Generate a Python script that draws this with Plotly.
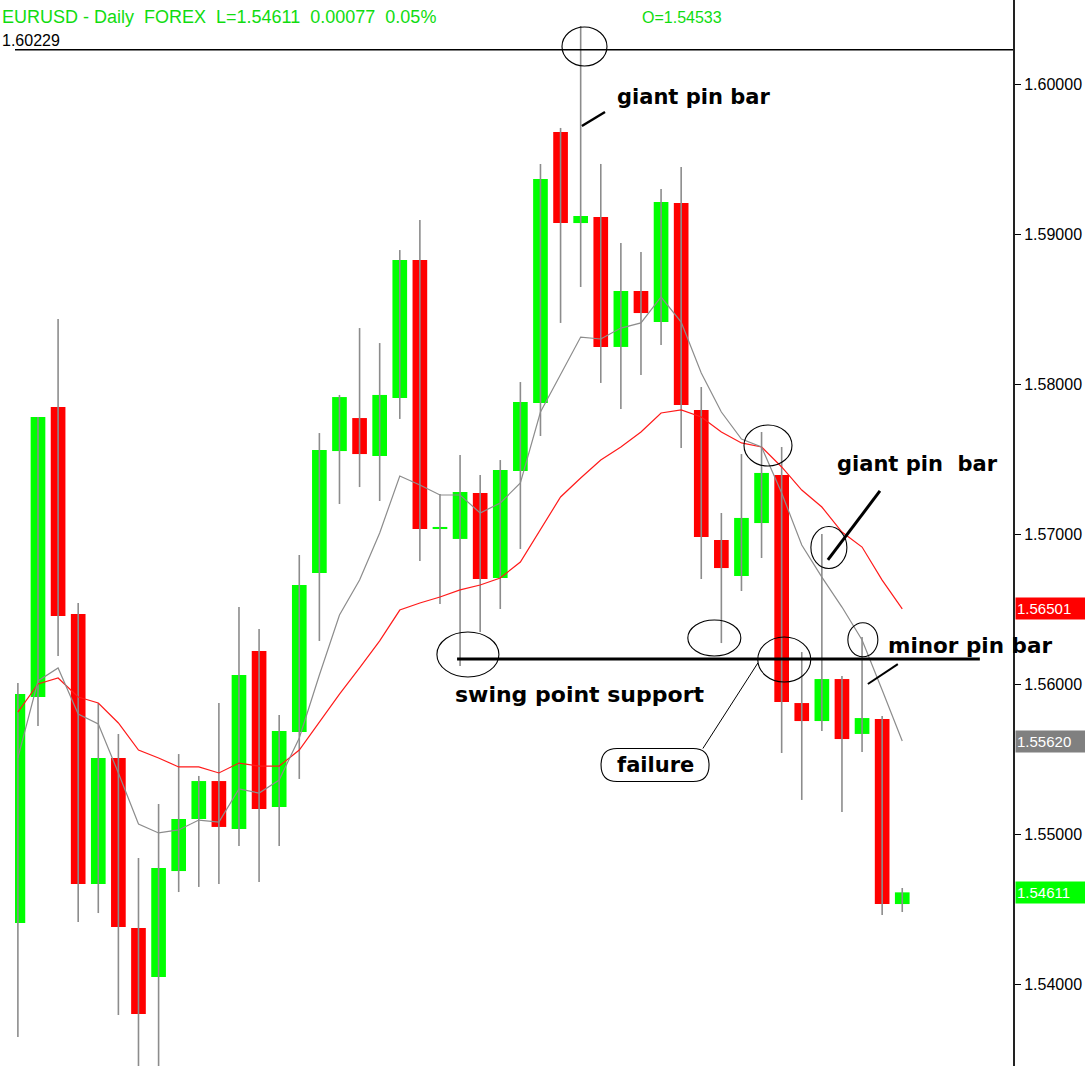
import plotly.graph_objects as go

# ---------------- data (EURUSD daily) ----------------
opens = [1.54407, 1.55913, 1.57847, 1.56467, 1.54667, 1.55507, 1.54373, 1.54047, 1.54753, 1.55100,
         1.55353, 1.55033, 1.56220, 1.55180, 1.55680, 1.56740, 1.57553, 1.57773, 1.57520, 1.57907,
         1.58827, 1.57033, 1.56967, 1.57273, 1.56707, 1.57420, 1.57873, 1.59680, 1.59073, 1.59113,
         1.58247, 1.58620, 1.58413, 1.59207, 1.57827, 1.56960, 1.56720, 1.57073, 1.57393, 1.55873,
         1.55753, 1.56033, 1.55667, 1.55767, 1.54533]
highs = [1.56007, 1.57780, 1.58433, 1.56540, 1.55873, 1.55667, 1.54840, 1.55200, 1.55533, 1.55387,
         1.55873, 1.56513, 1.56367, 1.55793, 1.56860, 1.57673, 1.57927, 1.58373, 1.58273, 1.58893,
         1.59093, 1.57267, 1.57527, 1.57393, 1.57493, 1.58013, 1.59467, 1.59707, 1.60387, 1.59467,
         1.58940, 1.58880, 1.59300, 1.59447, 1.57980, 1.57140, 1.57533, 1.57680, 1.57580, 1.56213,
         1.57000, 1.56053, 1.56313, 1.55787, 1.54640]
lows = [1.53647, 1.55720, 1.56187, 1.54413, 1.54473, 1.53793, 1.53393, 1.53393, 1.54613, 1.54647,
        1.54667, 1.54920, 1.54680, 1.54920, 1.55367, 1.56287, 1.57200, 1.57313, 1.57220, 1.57767,
        1.56820, 1.56533, 1.56120, 1.56347, 1.56500, 1.56900, 1.57653, 1.58407, 1.58647, 1.58007,
        1.57833, 1.58060, 1.58260, 1.57573, 1.56700, 1.56273, 1.56620, 1.56840, 1.55540, 1.55227,
        1.55687, 1.55147, 1.55547, 1.54460, 1.54480]
closes = [1.55933, 1.57780, 1.56453, 1.54667, 1.55507, 1.54380, 1.53800, 1.54773, 1.55100, 1.55353,
          1.55047, 1.56060, 1.55167, 1.55687, 1.56660, 1.57560, 1.57913, 1.57533, 1.57927, 1.58827,
          1.57033, 1.57047, 1.57280, 1.56700, 1.57427, 1.57880, 1.59367, 1.59073, 1.59120, 1.58247,
          1.58620, 1.58473, 1.59213, 1.57860, 1.56980, 1.56773, 1.57107, 1.57407, 1.55880, 1.55753,
          1.56033, 1.55633, 1.55773, 1.54534, 1.54611]
ma_fast = [1.55507, 1.56020, 1.56107, 1.55800, 1.55733, 1.55407, 1.55067, 1.55007, 1.55027, 1.55093,
           1.55080, 1.55300, 1.55273, 1.55360, 1.55640, 1.56060, 1.56460, 1.56693, 1.57007, 1.57387,
           1.57327, 1.57260, 1.57260, 1.57140, 1.57207, 1.57340, 1.57813, 1.58067, 1.58313, 1.58300,
           1.58373, 1.58407, 1.58580, 1.58413, 1.58073, 1.57813, 1.57633, 1.57580, 1.57273, 1.56927,
           1.56713, 1.56513, 1.56293, 1.55960, 1.55620]
ma_slow = [1.55813, 1.56000, 1.56040, 1.55913, 1.55873, 1.55740, 1.55560, 1.55507, 1.55447, 1.55447,
           1.55407, 1.55473, 1.55453, 1.55453, 1.55560, 1.55747, 1.55933, 1.56107, 1.56287, 1.56493,
           1.56540, 1.56580, 1.56627, 1.56660, 1.56707, 1.56813, 1.57027, 1.57247, 1.57373, 1.57493,
           1.57580, 1.57680, 1.57807, 1.57827, 1.57780, 1.57680, 1.57607, 1.57580, 1.57447, 1.57293,
           1.57180, 1.57013, 1.56913, 1.56693, 1.56501]

tick_vals = [1.54, 1.55, 1.56, 1.57, 1.58, 1.59, 1.60]
tick_text = ["1.54000", "1.55000", "1.56000", "1.57000", "1.58000", "1.59000", "1.60000"]

header_text = "EURUSD - Daily  FOREX  L=1.54611  0.00077  0.05%"
open_text = "O=1.54533"
high_line_level = 1.60229
support_level = 1.56167

GREEN = "#00ff00"
RED = "#ff0000"
WICK = "#8c8c8c"

n = len(opens)
idx = list(range(n))

# wicks
wx, wy = [], []
for i in idx:
    wx += [i, i, None]
    wy += [lows[i], highs[i], None]

bases = [min(o, c) for o, c in zip(opens, closes)]
heights = [abs(c - o) for o, c in zip(opens, closes)]
colors = [GREEN if c >= o else RED for o, c in zip(opens, closes)]

fig = go.Figure()
fig.add_trace(go.Scatter(x=wx, y=wy, mode="lines", line=dict(color=WICK, width=1.6),
                         hoverinfo="skip", showlegend=False))
fig.add_trace(go.Bar(x=idx, y=heights, base=bases, width=0.73,
                     marker=dict(color=colors, line=dict(width=0)), showlegend=False))
fig.add_trace(go.Scatter(x=idx, y=ma_slow, mode="lines", line=dict(color="#ff1a1a", width=1.2),
                         showlegend=False))
fig.add_trace(go.Scatter(x=idx, y=ma_fast, mode="lines", line=dict(color="#8c8c8c", width=1.2),
                         showlegend=False))

shapes = []
# top horizontal line
shapes.append(dict(type="line", xref="paper", x0=0, x1=1, yref="y", y0=high_line_level, y1=high_line_level,
                   line=dict(color="black", width=1.5)))
# support line
shapes.append(dict(type="line", xref="x", x0=21.85, x1=47.86, yref="y", y0=support_level, y1=support_level,
                   line=dict(color="black", width=3)))

def ellipse(cx, cy, rx, ry):
    return dict(type="circle", xref="x", yref="y", xsizemode="pixel", ysizemode="pixel",
                xanchor=cx, yanchor=cy, x0=-rx, x1=rx, y0=-ry, y1=ry,
                line=dict(color="black", width=1.1))

for cx, cy, rx, ry in [(28.19, 1.60250, 22.5, 19.5), (37.32, 1.57590, 24, 20.5),
                       (40.35, 1.56910, 18, 21), (22.39, 1.56197, 31, 22.5),
                       (34.65, 1.56307, 26.5, 18), (38.13, 1.56163, 26.5, 22.5),
                       (42.04, 1.56295, 15, 17)]:
    shapes.append(ellipse(cx, cy, rx, ry))

def seg(x0, y0, x1, y1, w):
    return dict(type="line", xref="x", yref="y", x0=x0, y0=y0, x1=x1, y1=y1,
                line=dict(color="black", width=w))

shapes.append(seg(28.06, 1.59720, 29.21, 1.59813, 2.5))
shapes.append(seg(40.30, 1.56827, 42.89, 1.57287, 3))
shapes.append(seg(42.29, 1.56000, 43.78, 1.56133, 2))
shapes.append(seg(34.08, 1.55570, 36.82, 1.56141, 1))

# rounded box around "failure"
shapes.append(dict(type="path", xref="x", yref="y", xsizemode="pixel", ysizemode="pixel",
                   xanchor=31.7, yanchor=1.5546,
                   path="M -38,16.5 L 38,16.5 Q 54,16.5 54,0 Q 54,-16.5 38,-16.5 L -38,-16.5 "
                        "Q -54,-16.5 -54,0 Q -54,16.5 -38,16.5 Z",
                   line=dict(color="black", width=1.1)))

BOLD = dict(family="DejaVu Sans", size=21, color="black", weight="bold")
ann = []
def label(text, x, y, anchor="left", size=21):
    f = dict(BOLD)
    f["size"] = size
    ann.append(dict(text=text, x=x, y=y, xref="x", yref="y", xanchor=anchor, yanchor="middle",
                    showarrow=False, font=f))

label("giant pin bar", 29.71, 1.59913)
label("giant pin  bar", 40.65, 1.57467)
label("swing point support", 21.65, 1.55927, size=22)
label("failure", 31.7, 1.5546, anchor="center")
label("minor pin bar", 43.19, 1.56260, size=21.5)

HDR = dict(family="Liberation Sans", size=18, color="#10dc10")
ann.append(dict(text=header_text, xref="paper", yref="paper", x=-0.01503, y=0.984,
                xanchor="left", yanchor="middle", showarrow=False, font=HDR))
ann.append(dict(text=open_text, xref="paper", yref="paper", x=0.626, y=0.984,
                xanchor="left", yanchor="middle", showarrow=False,
                font=dict(family="Liberation Sans", size=16, color="#10dc10")))
ann.append(dict(text=f"{high_line_level:.5f}", xref="paper", yref="y", x=-0.01503, y=high_line_level,
                xanchor="left", yanchor="bottom", yshift=-1, showarrow=False,
                font=dict(family="Liberation Sans", size=16, color="black")))

# price boxes on the axis
for val, col in [(ma_slow[-1], RED), (ma_fast[-1], "#808080"), (closes[-1], GREEN)]:
    ann.append(dict(text=f"{val:.5f}", xref="paper", yref="y", x=1, y=val, xanchor="left",
                    xshift=2, yanchor="middle", showarrow=False, bgcolor=col, width=72, height=19,
                    align="left", borderpad=1,
                    font=dict(family="Liberation Sans", size=15, color="white")))

fig.update_layout(
    width=1085, height=1066,
    margin=dict(l=15, r=72, t=0, b=0),
    paper_bgcolor="white", plot_bgcolor="white",
    showlegend=False, barmode="overlay",
    shapes=shapes, annotations=ann,
    xaxis=dict(visible=False, range=[-0.144, 49.51], fixedrange=True),
    yaxis=dict(side="right", range=[1.6056 - 1066 / 15000, 1.6056],
               tickvals=tick_vals, ticktext=tick_text, ticks="outside", ticklen=6,
               tickcolor="black", tickwidth=1, showline=True, linecolor="#222222", linewidth=2,
               showgrid=False, zeroline=False,
               tickfont=dict(family="Liberation Sans", size=16, color="black")),
)

fig.write_html("out.html", config={"displayModeBar": False},
               post_script="document.body.style.margin='0';document.body.style.overflow='hidden';")
